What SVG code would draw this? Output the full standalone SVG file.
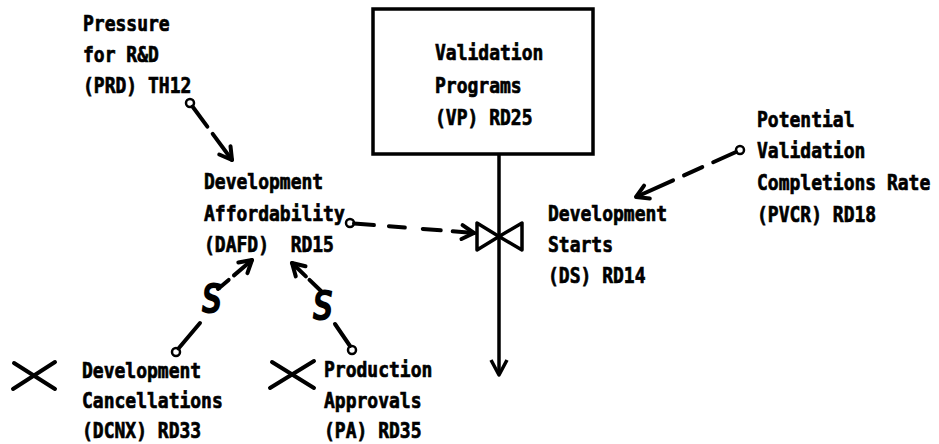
<svg xmlns="http://www.w3.org/2000/svg" width="939" height="444" viewBox="0 0 939 444">
  <style>
    .lbl { font-family: "DejaVu Sans Mono", "Liberation Mono", monospace; font-weight: bold; font-size: 18px; fill: #000; stroke: #000; stroke-width: 0.6px; }
    .pol { font-family: "DejaVu Sans", "Liberation Sans", sans-serif; font-weight: bold; font-style: italic; font-size: 40px; fill: #000; text-anchor: middle; }
    .info { fill: none; stroke: #000; stroke-width: 4; stroke-linecap: round; }
    .flow { fill: none; stroke: #000; stroke-width: 3.5; }
    .tap { fill: #fff; stroke: #000; stroke-width: 2.5; }
    .cloud { stroke: #000; stroke-width: 4; stroke-linecap: round; }
  </style>
  <defs>
    <marker id="head" markerUnits="userSpaceOnUse" orient="auto" refX="0" refY="0" markerWidth="20" markerHeight="20" overflow="visible">
      <path d="M-12,-7 L0,0 L-12,7" fill="none" stroke="#000" stroke-width="4" stroke-linecap="round" stroke-linejoin="round"/>
    </marker>
  </defs>

  <rect width="939" height="444" fill="#fff"/>

  <!-- stock -->
  <g id="vp">
    <rect x="373" y="9" width="220" height="145" fill="none" stroke="#000" stroke-width="3.5"/>
    <text class="lbl" transform="translate(435,60) scale(1,1.18)">Validation</text>
    <text class="lbl" transform="translate(435,92.5) scale(1,1.18)">Programs</text>
    <text class="lbl" transform="translate(435,125) scale(1,1.18)">(VP) RD25</text>
  </g>

  <!-- auxiliaries and constants -->
  <g id="prd">
    <text class="lbl" transform="translate(83,31) scale(1,1.18)">Pressure</text>
    <text class="lbl" transform="translate(83,62) scale(1,1.18)">for R&amp;D</text>
    <text class="lbl" transform="translate(83,93) scale(1,1.18)">(PRD) TH12</text>
  </g>

  <g id="dafd">
    <text class="lbl" transform="translate(204,189) scale(1,1.18)">Development</text>
    <text class="lbl" transform="translate(204,220.5) scale(1,1.18)">Affordability</text>
    <text class="lbl" transform="translate(204,252) scale(1,1.18)" xml:space="preserve">(DAFD)  RD15</text>
  </g>

  <g id="pvcr">
    <text class="lbl" transform="translate(757,127) scale(1,1.18)">Potential</text>
    <text class="lbl" transform="translate(757,158) scale(1,1.18)">Validation</text>
    <text class="lbl" transform="translate(757,190) scale(1,1.18)">Completions Rate</text>
    <text class="lbl" transform="translate(757,222) scale(1,1.18)">(PVCR) RD18</text>
  </g>

  <!-- rate with valve -->
  <g id="ds">
    <text class="lbl" transform="translate(548,221) scale(1,1.18)">Development</text>
    <text class="lbl" transform="translate(548,252) scale(1,1.18)">Starts</text>
    <text class="lbl" transform="translate(548,283) scale(1,1.18)">(DS) RD14</text>
  </g>

  <!-- sources with their rates -->
  <g id="dcnx">
    <line class="cloud" x1="14" y1="363" x2="55" y2="389"/>
    <line class="cloud" x1="13" y1="389" x2="55" y2="362"/>
    <text class="lbl" transform="translate(82,378) scale(1,1.18)">Development</text>
    <text class="lbl" transform="translate(82,408) scale(1,1.18)">Cancellations</text>
    <text class="lbl" transform="translate(82,438) scale(1,1.18)">(DCNX) RD33</text>
  </g>

  <g id="pa">
    <line class="cloud" x1="272" y1="362" x2="314" y2="388"/>
    <line class="cloud" x1="270" y1="388" x2="314" y2="361"/>
    <text class="lbl" transform="translate(324,377) scale(1,1.18)">Production</text>
    <text class="lbl" transform="translate(324,408) scale(1,1.18)">Approvals</text>
    <text class="lbl" transform="translate(324,438) scale(1,1.18)">(PA) RD35</text>
  </g>

  <g id="connectors">
    <!-- material flow out of the stock, through the valve -->
    <path class="flow" d="M499,154 L499,375"/>
    <path class="flow" d="M491,360 L499,375 L507,360" stroke-width="4" stroke-linejoin="round"/>
    <path d="M477,223 L477,250 L499,236.5 Z M522,223 L522,250 L499,236.5 Z" fill="#fff" stroke="#000" stroke-width="3.5" stroke-linejoin="round"/>

    <!-- information links -->
    <circle class="tap" cx="190" cy="103" r="4"/>
    <path class="info" d="M192.5,106.5 L232,160" stroke-dasharray="25 9 40" marker-end="url(#head)"/>

    <circle class="tap" cx="350" cy="223" r="4"/>
    <path class="info" d="M354,223.5 L474,233" stroke-dasharray="20 15 16 18 18 12 40" marker-end="url(#head)"/>

    <circle class="tap" cx="740" cy="150" r="4"/>
    <path class="info" d="M736,152 L636,197" stroke-dasharray="25 12 20 12 40" marker-end="url(#head)"/>

    <circle class="tap" cx="176" cy="352" r="4"/>
    <path class="info" d="M178.5,348.5 L200,323"/>
    <path class="info" d="M218,289 L252,260" stroke-dasharray="14 7 40" marker-end="url(#head)"/>
    <text class="pol" transform="translate(212,313) scale(0.75,1)">S</text>

    <circle class="tap" cx="352" cy="350" r="4"/>
    <path class="info" d="M350,346 L335,324"/>
    <path class="info" d="M321,291 L292,263" stroke-dasharray="16 5 40" marker-end="url(#head)"/>
    <text class="pol" transform="translate(323,320) scale(0.75,1)">S</text>
  </g>
</svg>
